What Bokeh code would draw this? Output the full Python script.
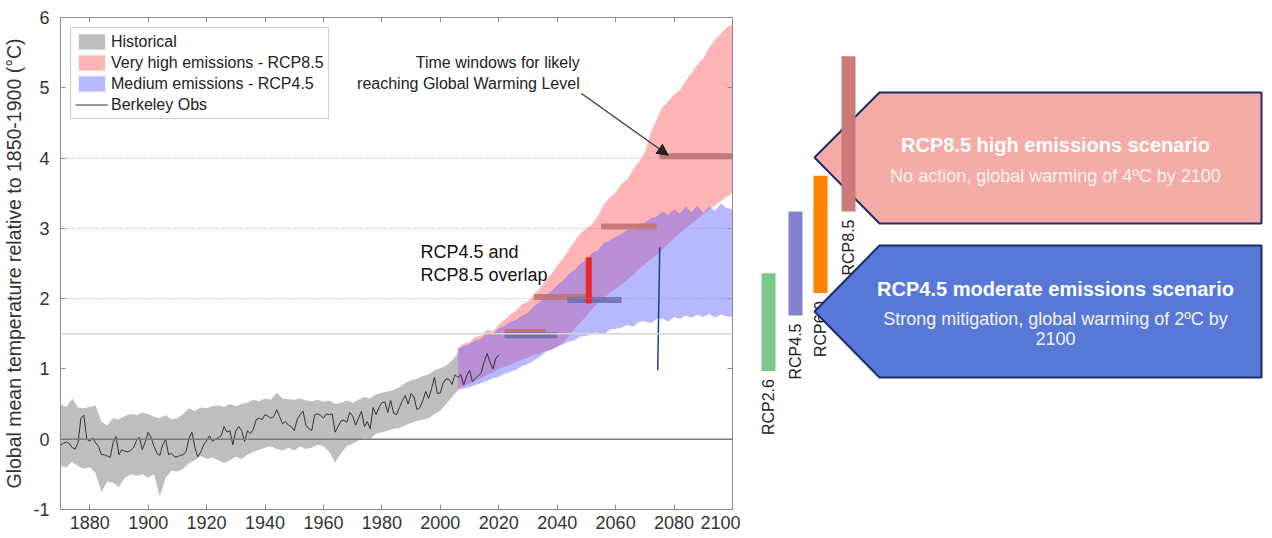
import math
from bokeh.plotting import figure
from bokeh.layouts import row
from bokeh.models import (Range1d, LinearAxis, SingleIntervalTicker, Span, Legend, LegendItem,
                          Arrow, NormalHead, Label)
from bokeh.core.properties import value
from bokeh.embed import file_html
from bokeh.resources import INLINE

FONT = "Liberation Sans"

# ---------------- data ----------------
hist_years = list(range(1870, 2007, 2))
hist_upper = [0.50, 0.46, 0.58, 0.45, 0.44, 0.46, 0.48, 0.25, 0.20, 0.30,
              0.28, 0.33, 0.36, 0.34, 0.38, 0.36, 0.32, 0.30, 0.34, 0.28,
              0.30, 0.36, 0.44, 0.40, 0.45, 0.44, 0.47, 0.48, 0.46, 0.50,
              0.47, 0.50, 0.52, 0.56, 0.54, 0.58, 0.56, 0.66, 0.58, 0.57,
              0.56, 0.58, 0.55, 0.54, 0.56, 0.53, 0.55, 0.50, 0.52, 0.55,
              0.52, 0.56, 0.60, 0.58, 0.64, 0.66, 0.68, 0.70, 0.74, 0.80,
              0.84, 0.86, 0.90, 0.92, 0.98, 1.01, 1.05, 1.12, 1.22]
hist_lower = [-0.38, -0.40, -0.32, -0.38, -0.42, -0.40, -0.48, -0.75, -0.60, -0.62,
              -0.68, -0.55, -0.50, -0.52, -0.50, -0.55, -0.50, -0.82, -0.55, -0.45,
              -0.46, -0.42, -0.34, -0.30, -0.24, -0.28, -0.26, -0.30, -0.34, -0.30,
              -0.25, -0.28, -0.22, -0.18, -0.15, -0.12, -0.10, -0.14, -0.16, -0.12,
              -0.16, -0.10, -0.14, -0.12, -0.08, -0.10, -0.18, -0.33, -0.20, -0.10,
              -0.06, -0.02, 0.02, 0.00, 0.08, 0.10, 0.12, 0.15, 0.16, 0.20,
              0.23, 0.26, 0.28, 0.30, 0.36, 0.41, 0.50, 0.60, 0.70]

obs_years = list(range(1870, 2021))
obs_temp = [-0.08, -0.06, -0.04, -0.06, -0.12, -0.14, -0.05, 0.30, 0.34, 0.00,
            -0.03, 0.02, -0.05, -0.10, -0.22, -0.22, -0.24, -0.26, -0.05, 0.04,
            -0.22, -0.15, -0.17, -0.18, -0.16, -0.12, -0.02, 0.03, -0.15, -0.04,
            0.10, 0.02, -0.10, -0.20, -0.23, -0.08, 0.00, -0.22, -0.20, -0.25,
            -0.25, -0.23, -0.22, -0.17, 0.02, 0.10, -0.12, -0.25, -0.18, -0.08,
            -0.02, 0.05, -0.03, 0.00, 0.02, 0.05, 0.18, 0.10, 0.12, -0.08,
            0.12, 0.18, 0.12, -0.03, 0.12, 0.08, 0.14, 0.28, 0.30, 0.28,
            0.35, 0.33, 0.30, 0.32, 0.42, 0.32, 0.22, 0.25, 0.20, 0.18,
            0.12, 0.28, 0.35, 0.40, 0.20, 0.15, 0.12, 0.35, 0.36, 0.34,
            0.30, 0.36, 0.35, 0.36, 0.10, 0.18, 0.26, 0.27, 0.24, 0.38,
            0.33, 0.20, 0.30, 0.40, 0.18, 0.25, 0.15, 0.45, 0.35, 0.45,
            0.52, 0.53, 0.38, 0.55, 0.37, 0.35, 0.45, 0.55, 0.62, 0.50,
            0.65, 0.60, 0.42, 0.45, 0.55, 0.68, 0.58, 0.72, 0.88, 0.65,
            0.66, 0.80, 0.86, 0.85, 0.78, 0.92, 0.88, 0.92, 0.77, 0.90,
            0.98, 0.82, 0.86, 0.90, 0.95, 1.10, 1.22, 1.10, 1.00, 1.15,
            1.20]

rcp_years = list(range(2006, 2101, 2))
rcp85_upper = [1.30, 1.36, 1.38, 1.46, 1.47, 1.56, 1.53, 1.63, 1.70, 1.78,
               1.83, 1.92, 1.96, 2.05, 2.14, 2.26, 2.35, 2.47, 2.57, 2.70,
               2.82, 2.93, 3.00, 3.06, 3.18, 3.34, 3.44, 3.51, 3.63, 3.70,
               3.84, 3.95, 4.08, 4.36, 4.55, 4.72, 4.81, 4.90, 4.97, 5.10,
               5.21, 5.33, 5.42, 5.57, 5.68, 5.77, 5.86, 5.90]
rcp85_lower = [0.72, 0.76, 0.79, 0.84, 0.87, 0.92, 0.95, 1.00, 1.03, 1.06,
               1.10, 1.13, 1.16, 1.20, 1.22, 1.26, 1.28, 1.31, 1.38, 1.47,
               1.57, 1.66, 1.76, 1.85, 1.94, 2.01, 2.08, 2.14, 2.20, 2.27,
               2.34, 2.42, 2.49, 2.56, 2.62, 2.70, 2.78, 2.86, 2.93, 3.00,
               3.07, 3.13, 3.20, 3.27, 3.33, 3.39, 3.45, 3.50]
rcp45_upper = [1.28, 1.33, 1.35, 1.41, 1.43, 1.51, 1.50, 1.58, 1.61, 1.67,
               1.70, 1.76, 1.80, 1.89, 1.95, 2.05, 2.11, 2.19, 2.26, 2.35,
               2.41, 2.50, 2.55, 2.65, 2.69, 2.79, 2.83, 2.88, 2.92, 2.98,
               2.99, 3.06, 3.08, 3.14, 3.17, 3.24, 3.19, 3.27, 3.21, 3.31,
               3.23, 3.32, 3.22, 3.31, 3.25, 3.35, 3.29, 3.27]
rcp45_lower = [0.70, 0.72, 0.74, 0.77, 0.80, 0.83, 0.87, 0.89, 0.93, 0.96,
               0.99, 1.04, 1.07, 1.12, 1.17, 1.24, 1.27, 1.32, 1.35, 1.39,
               1.41, 1.46, 1.47, 1.51, 1.52, 1.49, 1.56, 1.57, 1.59, 1.63,
               1.60, 1.67, 1.68, 1.65, 1.71, 1.72, 1.67, 1.74, 1.71, 1.76,
               1.73, 1.77, 1.74, 1.78, 1.73, 1.77, 1.75, 1.74]

gwl_levels = [1.5, 2.0, 3.0, 4.0]
rcp85_win_level = [1.5, 2.0, 3.0, 4.0]
rcp85_win_start = [2022, 2032, 2055, 2075]
rcp85_win_end = [2036, 2050, 2074, 2100]
rcp45_win_level = [1.5, 2.0]
rcp45_win_start = [2022, 2043.5]
rcp45_win_end = [2040, 2062]

overlap_year = [2050.8]
overlap_low = [1.93]
overlap_high = [2.59]
marker_year_top = [2075.1]
marker_year_bottom = [2074.4]
marker_high = [2.73]
marker_low = [0.98]

scen_names = ["RCP2.6", "RCP4.5", "RCP6.0", "RCP8.5"]
scen_low = [0.97, 1.76, 2.08, 3.24]
scen_high = [2.36, 3.24, 3.75, 5.45]
scen_colors = ["#78c888", "#8282cc", "#ff8200", "#cc7a7a"]

x_tick_step = 20
y_tick_step = 1

# ---------------- main chart ----------------
GRAY = "#8c8c8c"
p = figure(width=740, height=538, x_range=Range1d(1870, 2100), y_range=Range1d(-1, 6),
           output_backend="svg", toolbar_location=None,
           min_border_left=57, min_border_right=8, min_border_top=17, min_border_bottom=29)
p.xgrid.visible = False
p.ygrid.visible = False
p.outline_line_color = GRAY
p.background_fill_color = "white"
p.border_fill_color = "white"

p.xaxis[0].ticker = SingleIntervalTicker(interval=x_tick_step)
p.yaxis[0].ticker = SingleIntervalTicker(interval=y_tick_step)
for ax in (p.xaxis[0], p.yaxis[0]):
    ax.major_tick_in = 5
    ax.major_tick_out = 0
    ax.minor_tick_line_color = None
    ax.axis_line_color = GRAY
    ax.major_tick_line_color = GRAY
    ax.major_label_text_font = FONT
    ax.major_label_text_font_size = "18px"
    ax.major_label_text_color = "#333333"
p.yaxis[0].major_label_overrides = {-1: "-1"}
p.xaxis[0].major_label_standoff = 2
p.yaxis[0].major_label_standoff = 7
p.yaxis[0].axis_label = "Global mean temperature relative to 1850-1900 (°C)"
p.yaxis[0].axis_label_text_font = FONT
p.yaxis[0].axis_label_text_font_size = "19.5px"
p.yaxis[0].axis_label_text_font_style = "normal"
p.yaxis[0].axis_label_text_color = "#333333"
p.yaxis[0].axis_label_standoff = 5

top_ax = LinearAxis(ticker=SingleIntervalTicker(interval=x_tick_step), major_tick_in=5, major_tick_out=0,
                    minor_tick_line_color=None, axis_line_color=GRAY, major_tick_line_color=GRAY,
                    major_label_text_font_size="0px", major_label_text_color=None, major_label_standoff=0)
p.add_layout(top_ax, "above")
right_ax = LinearAxis(ticker=SingleIntervalTicker(interval=y_tick_step), major_tick_in=5, major_tick_out=0,
                      minor_tick_line_color=None, axis_line_color=GRAY, major_tick_line_color=GRAY,
                      major_label_text_font_size="0px", major_label_text_color=None, major_label_standoff=0)
p.add_layout(right_ax, "right")

r_hist = p.varea(x=hist_years, y1=hist_lower, y2=hist_upper, fill_color="#bebebe")
r85 = p.varea(x=rcp_years, y1=rcp85_lower, y2=rcp85_upper, fill_color="#ff0000", fill_alpha=0.29)
r45 = p.varea(x=rcp_years, y1=rcp45_lower, y2=rcp45_upper, fill_color="#5a5aff", fill_alpha=0.43)

for lvl in gwl_levels:
    if lvl == 1.5:
        p.add_layout(Span(location=lvl, dimension="width", line_color="#d4d4d4", line_width=1.5))
    else:
        p.add_layout(Span(location=lvl, dimension="width", line_color="#9a9a9a", line_width=1,
                          line_dash="1 2"))
p.add_layout(Span(location=0, dimension="width", line_color="#7a7a7a", line_width=1.5))

r_obs = p.line(x=obs_years, y=obs_temp, line_color="#333333", line_width=1)

p.segment(x0=rcp85_win_start, y0=[v + 0.025 for v in rcp85_win_level],
          x1=rcp85_win_end, y1=[v + 0.025 for v in rcp85_win_level],
          line_color="#c47070", line_width=6, line_cap="butt", line_alpha=0.9)
p.segment(x0=rcp45_win_start, y0=[v - 0.02 for v in rcp45_win_level],
          x1=rcp45_win_end, y1=[v - 0.02 for v in rcp45_win_level],
          line_color="#6e6eb4", line_width=6, line_cap="butt", line_alpha=0.9)

p.segment(x0=overlap_year, y0=overlap_low, x1=overlap_year, y1=overlap_high,
          line_color="#e8292b", line_width=6, line_cap="butt")
p.segment(x0=marker_year_bottom, y0=marker_low, x1=marker_year_top, y1=marker_high,
          line_color="#1d3c9a", line_width=1.5)

legend = Legend(items=[LegendItem(label="Historical", renderers=[r_hist]),
                       LegendItem(label="Very high emissions - RCP8.5", renderers=[r85]),
                       LegendItem(label="Medium emissions - RCP4.5", renderers=[r45]),
                       LegendItem(label="Berkeley Obs", renderers=[r_obs])],
                location="top_left", margin=10, padding=4, spacing=2,
                glyph_width=33, glyph_height=19, label_height=19, label_standoff=3,
                label_text_font=FONT, label_text_font_size="16px", label_text_color="#222222",
                border_line_color="#a0a0a0", border_line_width=1,
                background_fill_color="white", background_fill_alpha=1)
p.add_layout(legend)

for txt, yv in (("Time windows for likely", 5.36), ("reaching Global Warming Level", 5.06)):
    p.add_layout(Label(x=2047.7, y=yv, text=txt, text_align="right", text_baseline="middle",
                       text_font=FONT, text_font_size="16px", text_color="#222222"))
p.add_layout(Arrow(end=NormalHead(size=11, line_color="#222222", fill_color="#222222"),
                   x_start=2048.3, y_start=4.92, x_end=2078.0, y_end=4.04,
                   line_color="#333333", line_width=1.2))

for txt, yv in (("RCP4.5 and", 2.67), ("RCP8.5 overlap", 2.33)):
    p.add_layout(Label(x=1993.2, y=yv, text=txt, text_align="left", text_baseline="middle",
                       text_font=FONT, text_font_size="18px", text_color="#111111"))

# ---------------- right panel ----------------
p2 = figure(width=532, height=538, x_range=Range1d(740, 1272), y_range=Range1d(-1, 6),
            output_backend="svg", toolbar_location=None,
            x_axis_location=None, y_axis_location=None,
            min_border_left=0, min_border_right=0, min_border_top=17, min_border_bottom=29)
p2.outline_line_color = None
p2.xgrid.visible = False
p2.ygrid.visible = False
p2.extra_y_ranges = {"px": Range1d(start=509, end=17)}

bar_x = [768, 795, 820, 848]
NAVY = "#1c2c6c"

# pink callout (behind the RCP8.5 bar)
p2.patch(x=[879, 1261, 1261, 879, 814], y=[92, 92, 223, 223, 157], y_range_name="px",
         fill_color="#f5aba6", line_color=NAVY, line_width=2)

p2.vbar(x=bar_x, bottom=scen_low, top=scen_high, width=14, fill_color=scen_colors, line_color=None)
p2.text(x=bar_x, y=scen_low, text=scen_names, angle=math.pi / 2, y_offset=8,
        text_align="right", text_baseline="middle", text_font=value(FONT),
        text_font_size=value("16px"), text_color="#222222")

p2.patch(x=[879, 1261, 1261, 879, 814], y=[245, 245, 377, 377, 311], y_range_name="px",
         fill_color="#5878d8", line_color=NAVY, line_width=2)

title85 = "RCP8.5 high emissions scenario"
sub85 = "No action, global warming of 4ºC by 2100"
title45 = "RCP4.5 moderate emissions scenario"
sub45 = ["Strong mitigation, global warming of 2ºC by", "2100"]

p2.text(x=[1055], y=[144], text=[title85], y_range_name="px", text_align="center",
        text_baseline="middle", text_font=value(FONT), text_font_size=value("20px"),
        text_font_style="bold", text_color="white")
p2.text(x=[1055], y=[175], text=[sub85], y_range_name="px", text_align="center",
        text_baseline="middle", text_font=value(FONT), text_font_size=value("18px"),
        text_color="#fff4f2")
p2.text(x=[1055], y=[288], text=[title45], y_range_name="px", text_align="center",
        text_baseline="middle", text_font=value(FONT), text_font_size=value("20px"),
        text_font_style="bold", text_color="white")
p2.text(x=[1055, 1055], y=[318, 338], text=sub45, y_range_name="px", text_align="center",
        text_baseline="middle", text_font=value(FONT), text_font_size=value("18px"),
        text_color="#f4f6ff")

layout = row(p, p2)
open("out.html", "w").write(file_html(layout, INLINE, "Global warming scenarios"))
